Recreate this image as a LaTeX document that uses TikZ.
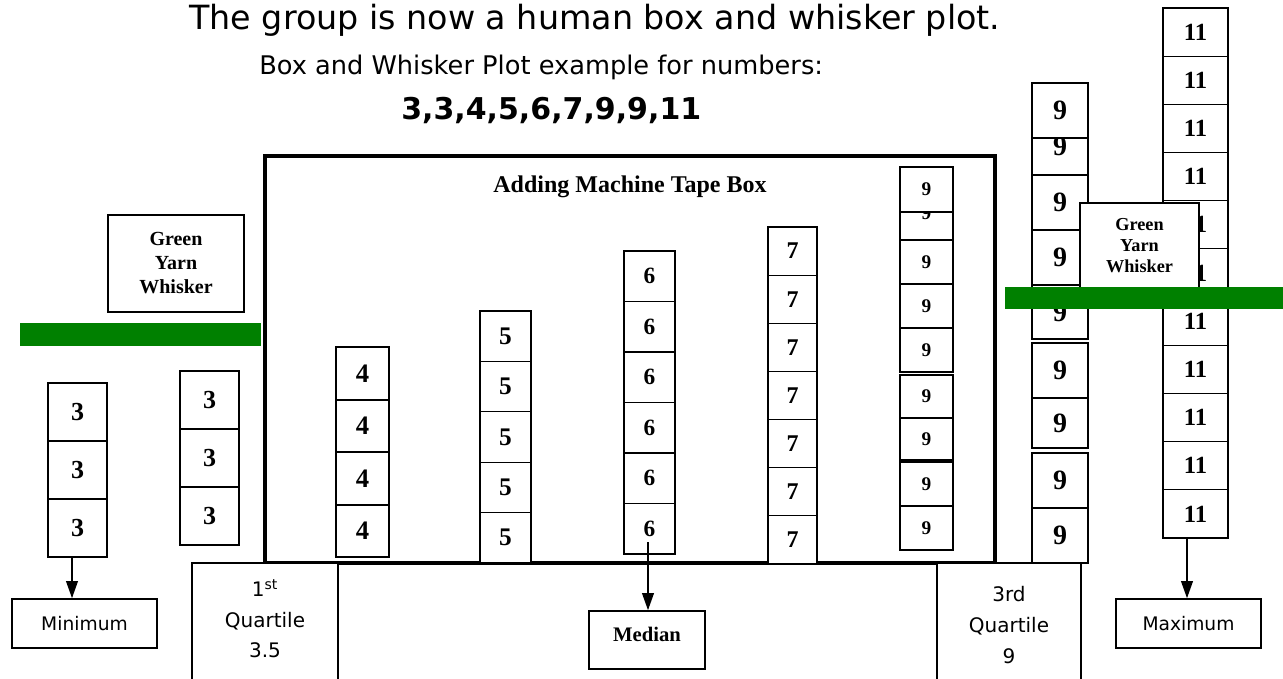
\documentclass[tikz,border=0pt]{standalone}
\usepackage{fontspec}
\setmainfont{Liberation Serif}
\newfontfamily\comicfont{DejaVu Sans}
\usetikzlibrary{arrows.meta}
\definecolor{yarn}{RGB}{0,128,0}
\tikzset{
  cell/.style={draw, fill=white, line width=0.8pt, inner sep=0pt, font=\bfseries},
  digits/.style={font=\bfseries\fontsize{#1}{#1}\selectfont},
  comic/.style 2 args={font=\comicfont\fontsize{#1}{#2}\selectfont},
  mainbox/.style={draw, fill=none, line width=3pt, inner sep=0pt},
  thinbox/.style={draw, line width=0.8pt, inner sep=0pt},
  yarnbar/.style={fill=yarn, draw=none, inner sep=0pt},
  arr/.style={line width=2pt, -{Triangle[width=8.5pt,length=13pt]}},
  whisk/.style 2 args={cell, align=center, font=\bfseries\fontsize{#1}{#2}\selectfont},
}
\newcommand\bx[7][]{\node[cell,#1,minimum width={((#5)-(#3))*0.75pt},minimum height={((#6)-(#4))*0.75pt}] (#2) at ({((#3)+(#5))/2},{((#4)+(#6))/2}) {#7};}
\begin{document}
\begin{tikzpicture}[x=0.75pt,y=-0.75pt]
\useasboundingbox (0,0) rectangle (1283,679);

% titles
\node[comic={25pt}{30pt}, anchor=base west, inner sep=0pt] (t1) at (189,29) {The group is now a human box and whisker plot.};
\node[comic={19.25pt}{24pt}, anchor=base west, inner sep=0pt] (t2) at (259,74) {Box and Whisker Plot example for numbers:};
\node[font=\comicfont\bfseries\fontsize{22.5pt}{26pt}\selectfont, anchor=base west, inner sep=0pt] (t3) at (401,119) {3,3,4,5,6,7,9,9,11};

% main box
\bx[mainbox]{tape}{265}{156}{995}{563}{}
\node[font=\bfseries\fontsize{18pt}{20pt}\selectfont, anchor=base, inner sep=0pt] (tapelbl) at (630,192) {Adding Machine Tape Box};

% bottom boxes
\bx[thinbox, fill=none]{mid}{337}{563}{937}{700}{}
\bx[thinbox, fill=white]{q1}{192}{563}{338}{700}{}
\bx[thinbox, fill=white]{q3}{937}{563}{1081}{700}{}
\node[comic={15pt}{23pt}, align=center, inner sep=0pt] (q1t) at (265,619) {1\textsuperscript{st}\\Quartile\\3.5};
\node[comic={15pt}{23pt}, align=center, inner sep=0pt] (q3t) at (1009,625) {3rd\\Quartile\\9};

% column of 3s (left)
\bx[digits=19.5pt]{a1}{48}{383}{107}{441}{3}
\bx[digits=19.5pt]{a2}{48}{441}{107}{499}{3}
\bx[digits=19.5pt]{a3}{48}{499}{107}{557}{3}
% column of 3s (second)
\bx[digits=19.5pt]{b1}{180}{371}{239}{429}{3}
\bx[digits=19.5pt]{b2}{180}{429}{239}{487}{3}
\bx[digits=19.5pt]{b3}{180}{487}{239}{545}{3}
% column of 4s
\bx[digits=20pt]{c1}{336}{347}{389}{400}{4}
\bx[digits=20pt]{c2}{336}{400}{389}{452}{4}
\bx[digits=20pt]{c3}{336}{452}{389}{505}{4}
\bx[digits=20pt]{c4}{336}{505}{389}{557}{4}
% column of 5s
\foreach \i in {0,...,4}{\bx[digits=19pt]{d\i}{480}{311+\i*50.4}{531}{311+(\i+1)*50.4}{5}}
% column of 6s
\foreach \i in {0,...,5}{\bx[digits=17.5pt]{e\i}{624}{251+\i*50.5}{675}{251+(\i+1)*50.5}{6}}
% column of 7s
\foreach \i in {0,...,6}{\bx[digits=18pt]{f\i}{768}{227+\i*48.14}{817}{227+(\i+1)*48.14}{7}}
% inner column of 9s
\bx[digits=14.5pt]{gB}{900}{186}{953}{240}{9}
\bx[digits=14.5pt]{gA}{900}{167}{953}{212}{9}
\bx[digits=14.5pt]{gC}{900}{240}{953}{284}{9}
\bx[digits=14.5pt]{gD}{900}{284}{953}{328}{9}
\bx[digits=14.5pt]{gE}{900}{328}{953}{372}{9}
\bx[digits=14.5pt]{gF}{900}{375}{953}{418}{9}
\bx[digits=14.5pt]{gG}{900}{418}{953}{460}{9}
\bx[digits=14.5pt]{gH}{900}{462}{953}{506}{9}
\bx[digits=14.5pt]{gI}{900}{506}{953}{550}{9}
% outer column of 9s
\bx[digits=21pt]{h2}{1032}{118}{1088}{175}{9}
\bx[digits=21pt]{h1}{1032}{83}{1088}{138}{9}
\bx[digits=21pt]{h3}{1032}{175}{1088}{230}{9}
\bx[digits=21pt]{h4}{1032}{230}{1088}{285}{9}
\bx[digits=21pt]{h5}{1032}{285}{1088}{339}{9}
\bx[digits=21pt]{h6}{1032}{343}{1088}{398}{9}
\bx[digits=21pt]{h7}{1032}{398}{1088}{448}{9}
\bx[digits=21pt]{h8}{1032}{453}{1088}{508}{9}
\bx[digits=21pt]{h9}{1032}{508}{1088}{563}{9}
% column of 11s
\foreach \i in {0,...,10}{\bx[digits=18.5pt]{k\i}{1163}{8+\i*48.18}{1228}{8+(\i+1)*48.18}{11}}

% labels
\bx[comic={14pt}{16pt}]{mn}{12}{599}{157}{648}{Minimum}
\bx[comic={14pt}{16pt}]{mx}{1116}{599}{1261}{648}{Maximum}
\bx{md}{589}{611}{705}{669}{}
\node[font=\bfseries\fontsize{15.5pt}{17pt}\selectfont, inner sep=0pt] (mdt) at (647,634) {Median};

% arrows
\coordinate (xmin) at (72,0);
\coordinate (xmed) at (648,542);
\coordinate (xmax) at (1187,0);
\draw[arr] (a3.south -| xmin) -- (mn.north -| xmin);
\draw[arr] (xmed) -- (md.north -| xmed);
\draw[arr] (k10.south -| xmax) -- (mx.north -| xmax);

% whiskers
\bx[whisk={15pt}{18pt}]{wl}{108}{215}{244}{312}{Green\\Yarn\\Whisker}
\bx[yarnbar]{gl}{20}{323}{261}{346}{}
\bx[whisk={13.7pt}{15.75pt}]{wr}{1080}{203}{1199}{288}{Green\\Yarn\\Whisker}
\bx[yarnbar]{gr}{1005}{287}{1283}{309}{}
\end{tikzpicture}
\end{document}
